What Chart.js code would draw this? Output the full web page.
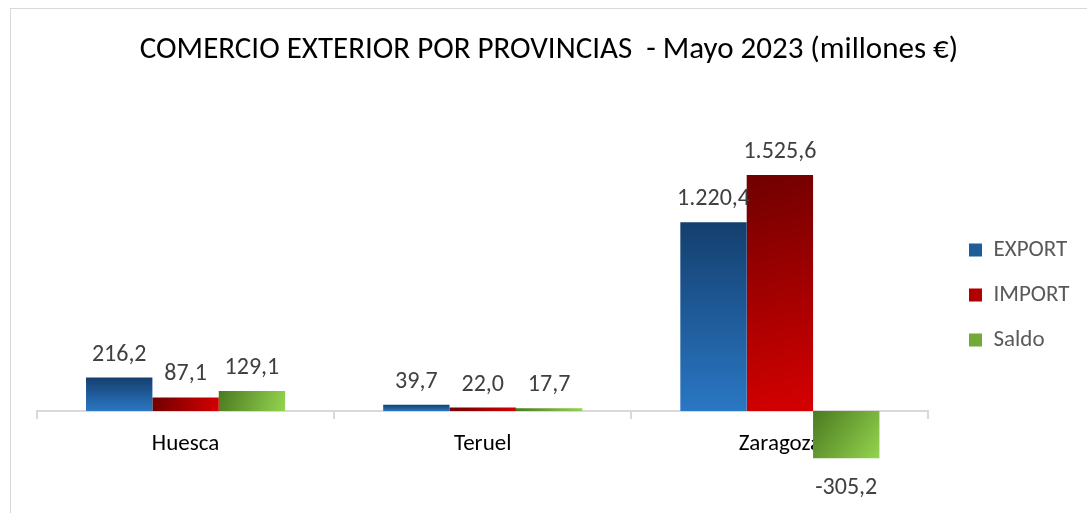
<!DOCTYPE html>
<html><head><meta charset="utf-8">
<script src="https://cdn.jsdelivr.net/npm/chart.js@4"></script>
<style>
html,body{margin:0;padding:0;background:#fff;overflow:hidden}
#wrap{position:relative;width:1087px;height:513px;overflow:hidden}
#frame{position:absolute;left:10px;top:8px;width:1200px;height:700px;border:1px solid #d9d9d9;box-sizing:border-box}
canvas{position:absolute;left:0;top:0}
</style></head><body>
<div id="wrap"><div id="frame"></div><canvas id="c" width="1087" height="513"></canvas></div>
<script>
const titleText = 'COMERCIO EXTERIOR POR PROVINCIAS  - Mayo 2023 (millones €)';
const categories = ['Huesca', 'Teruel', 'Zaragoza'];
const seriesNames = ['EXPORT', 'IMPORT', 'Saldo'];
const exportValues = [216.2, 39.7, 1220.4];
const importValues = [87.1, 22.0, 1525.6];
const saldoValues = [129.1, 17.7, -305.2];

const FONT = 'Carlito, Lato, "Open Sans", sans-serif';
const LEGEND_PAD = 22;
const LEGEND_FONT = 23;

const gradStops = [
  {from: '#143f6e', to: '#2a77c4', dir: 'v'},
  {from: '#700000', to: '#d60000', dir: 'd'},
  {from: '#4b7a20', to: '#94d44f', dir: 'd'}
];
const legendColors = ['#1f5c99', '#b00000', '#72aa38'];

function fmt(v) {
  const neg = v < 0;
  const s = Math.abs(v).toFixed(1);
  let [ip, dp] = s.split('.');
  ip = ip.replace(/\B(?=(\d{3})+(?!\d))/g, '.');
  return (neg ? '-' : '') + ip + ',' + dp;
}

const gradientPlugin = {
  id: 'grad',
  beforeDatasetsDraw(chart) {
    const ctx = chart.ctx;
    chart.data.datasets.forEach((ds, di) => {
      const meta = chart.getDatasetMeta(di);
      const g = gradStops[di];
      meta.data.forEach(el => {
        const left = el.x - el.width / 2, right = el.x + el.width / 2;
        const top = Math.min(el.y, el.base), bottom = Math.max(el.y, el.base);
        let gr;
        if (g.dir === 'v') gr = ctx.createLinearGradient(0, top, 0, bottom);
        else gr = ctx.createLinearGradient(left, top, right, bottom);
        gr.addColorStop(0, g.from);
        gr.addColorStop(1, g.to);
        el.options = Object.assign({}, el.options, {backgroundColor: gr});
      });
    });
  }
};

const legendPlacePlugin = {
  id: 'legendPlace',
  afterLayout(chart) {
    const lg = chart.legend;
    if (!lg) return;
    const w = lg.right - lg.left, h = lg.bottom - lg.top;
    lg.left = 969 - LEGEND_PAD;
    lg.right = lg.left + w;
    lg.top = 250 - LEGEND_PAD - LEGEND_FONT / 2;
    lg.bottom = lg.top + h;
  }
};

const labelPlugin = {
  id: 'vlabels',
  afterDatasetsDraw(chart) {
    const ctx = chart.ctx;
    ctx.save();
    ctx.font = '24px ' + FONT;
    ctx.fillStyle = '#404040';
    ctx.textAlign = 'center';
    ctx.textBaseline = 'middle';
    chart.data.datasets.forEach((ds, di) => {
      const meta = chart.getDatasetMeta(di);
      meta.data.forEach((el, i) => {
        const v = ds.data[i];
        const y = v >= 0 ? el.y - 23 : el.y + 30;
        ctx.fillText(fmt(v), el.x, y);
      });
    });
    ctx.restore();
  }
};

new Chart(document.getElementById('c'), {
  type: 'bar',
  data: {
    labels: categories,
    datasets: [
      {label: seriesNames[0], data: exportValues, backgroundColor: () => legendColors[0]},
      {label: seriesNames[1], data: importValues, backgroundColor: () => legendColors[1]},
      {label: seriesNames[2], data: saldoValues, backgroundColor: () => legendColors[2]}
    ]
  },
  options: {
    responsive: false,
    animation: false,
    devicePixelRatio: 1,
    layout: {padding: {top: 28, left: 37, right: 26, bottom: 10}},
    datasets: {bar: {categoryPercentage: 0.67, barPercentage: 1.0, borderWidth: 0}},
    scales: {
      x: {
        position: {y: 0},
        grid: {display: true, drawOnChartArea: false, drawTicks: true, tickLength: 7, color: '#d9d9d9', lineWidth: 2, offset: true},
        border: {display: true, color: '#d9d9d9', width: 2},
        ticks: {color: '#000', font: {family: FONT, size: 23}, padding: 12}
      },
      y: {display: false, min: -595, max: 2015.5}
    },
    plugins: {
      title: {display: true, text: titleText, color: '#000', font: {family: FONT, size: 31, weight: 'normal'}, padding: {top: 4, bottom: 30}},
      legend: {
        position: 'right',
        fullSize: false,
        align: 'start',
        labels: {
          boxWidth: 13, boxHeight: 13, padding: LEGEND_PAD, color: '#595959',
          font: {family: FONT, size: LEGEND_FONT},
          generateLabels(chart) {
            return chart.data.datasets.map((d, i) => ({text: d.label, fillStyle: legendColors[i], strokeStyle: legendColors[i], lineWidth: 0, datasetIndex: i, fontColor: '#595959'}));
          }
        }
      },
      tooltip: {enabled: false}
    }
  },
  plugins: [gradientPlugin, legendPlacePlugin, labelPlugin]
});
</script>
</body></html>
